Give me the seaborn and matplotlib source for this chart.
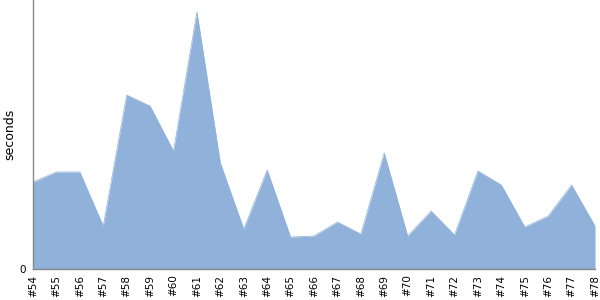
import matplotlib
matplotlib.use("Agg")
import matplotlib.pyplot as plt
import seaborn as sns
import pandas as pd

builds = ["#54", "#55", "#56", "#57", "#58", "#59", "#60", "#61", "#62", "#63",
          "#64", "#65", "#66", "#67", "#68", "#69", "#70", "#71", "#72", "#73",
          "#74", "#75", "#76", "#77", "#78"]
seconds = [8.7, 9.7, 9.7, 4.3, 17.4, 16.3, 11.8, 25.7, 10.6, 4.0,
           9.9, 3.2, 3.3, 4.7, 3.5, 11.6, 3.3, 5.8, 3.4, 9.8,
           8.4, 4.2, 5.3, 8.4, 4.3]
y_max = 26.9

df = pd.DataFrame({"build": builds, "seconds": seconds, "pos": range(len(builds))})

sns.set_style("white")
plt.rcParams['font.family'] = ['DejaVu Sans']
fig = plt.figure(figsize=(6, 3), dpi=100)
ax = fig.add_axes([33/600, 31/300, 562/600, 269/300])
color = "#8fb1da"
sns.lineplot(data=df, x="pos", y="seconds", ax=ax, color=color, linewidth=0.5)
ax.fill_between(df["pos"], 0, df["seconds"], color=color, linewidth=0)

ax.set_xlim(0, len(builds) - 1)
ax.set_ylim(0, y_max)
ax.set_xticks(df["pos"])
ax.set_xticklabels(builds, rotation=90, fontsize=7.5, color="black")
ax.set_yticks([0])
ax.set_yticklabels(["0"], fontsize=7.5, color="black")
ax.set_xlabel("")
ax.set_ylabel("seconds", fontsize=9, color="black")
ax.yaxis.set_label_coords(-0.030, 0.5)
for s in ["top", "right"]:
    ax.spines[s].set_visible(False)
for s in ["left", "bottom"]:
    ax.spines[s].set_color("#888888")
    ax.spines[s].set_linewidth(1)
ax.tick_params(axis="y", length=3, color="#888888", pad=2)
ax.tick_params(axis="x", length=0, pad=4)
fig.savefig("out.png", dpi=100)
